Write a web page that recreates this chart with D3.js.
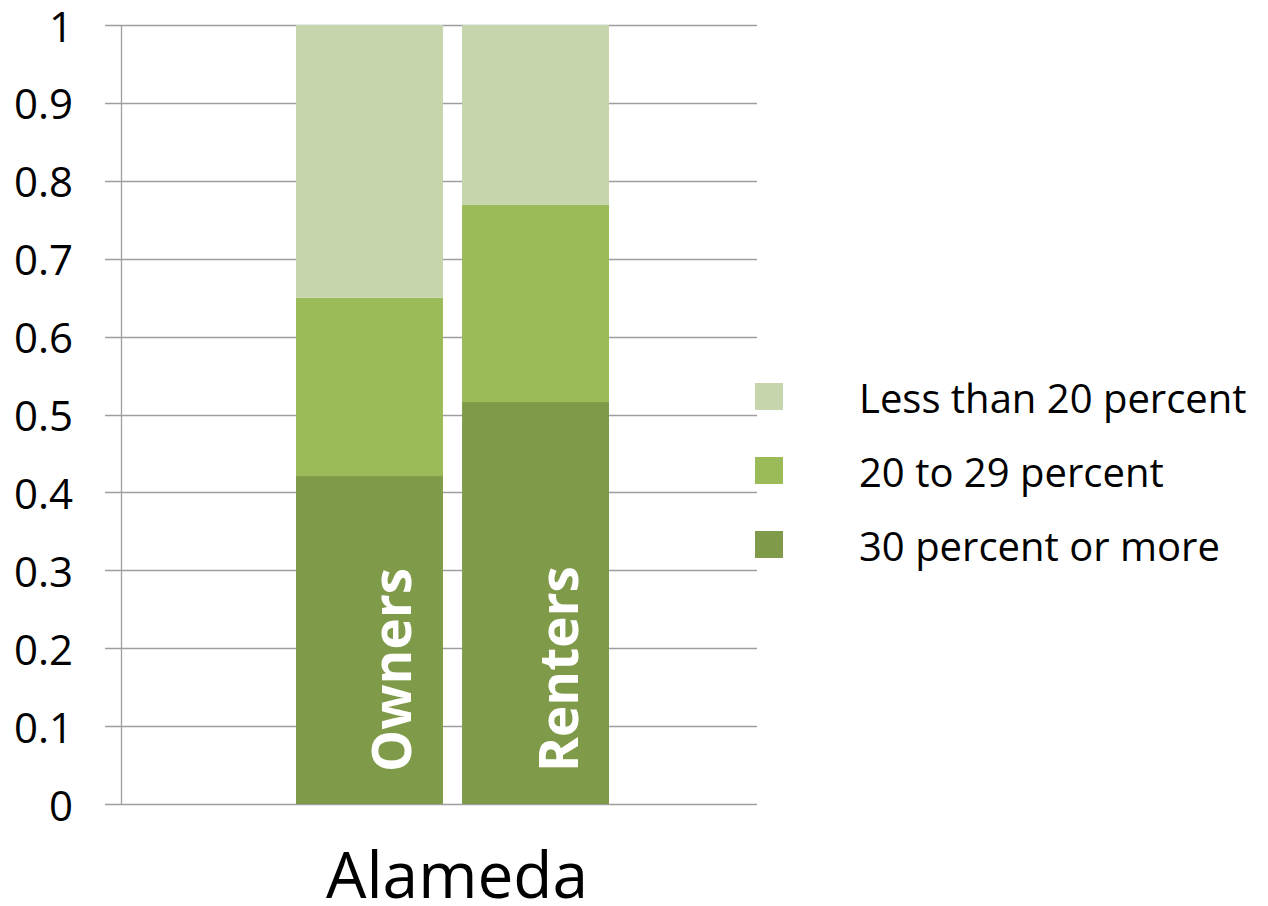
<!DOCTYPE html>
<html>
<head>
<meta charset="utf-8">
<script src="https://cdn.jsdelivr.net/npm/d3@7"></script>
<style>
  body { margin: 0; background: #fff; }
  svg { display: block; font-family: "Open Sans", Lato, sans-serif; }
</style>
</head>
<body>
<svg id="chart" width="1268" height="906"></svg>
<script>
// data
var tenure = ['Owners', 'Renters'];
var series = ['30 percent or more', '20 to 29 percent', 'Less than 20 percent'];
var over30 = [0.421, 0.516];
var from20to29 = [0.229, 0.253];
var under20 = [0.350, 0.231];
var county = 'Alameda';
var yTicks = [0, 0.1, 0.2, 0.3, 0.4, 0.5, 0.6, 0.7, 0.8, 0.9, 1];
var colors = ['#7f9a48', '#9bbb59', '#c6d5ac'];

var svg = d3.select('#chart');

var plotTop = 25, plotBottom = 804, plotLeft = 121, plotRight = 757;

var y = d3.scaleLinear().domain([0, 1]).range([plotBottom, plotTop]);
var x = d3.scaleBand().domain(tenure).range([296, 609]).paddingInner(0.115);

// gridlines + tick marks
var grid = svg.append('g');
grid.selectAll('line').data(yTicks).enter().append('line')
    .attr('x1', plotLeft - 16)
    .attr('x2', plotRight)
    .attr('y1', function(d) { return Math.round(y(d)) + 0.5; })
    .attr('y2', function(d) { return Math.round(y(d)) + 0.5; })
    .attr('stroke', '#9e9e9e')
    .attr('stroke-width', 1.3);

svg.append('line')
    .attr('x1', plotLeft + 0.5).attr('x2', plotLeft + 0.5)
    .attr('y1', y(1)).attr('y2', y(0))
    .attr('stroke', '#9e9e9e')
    .attr('stroke-width', 1.3);

// y labels
svg.append('g').selectAll('text').data(yTicks).enter().append('text')
    .attr('x', 73)
    .attr('y', function(d) { return y(d); })
    .attr('text-anchor', 'end')
    .attr('dominant-baseline', 'central')
    .attr('font-size', 42)
    .attr('fill', '#000')
    .text(function(d) { return d3.format('')(d); });

// stacked bars
var rows = tenure.map(function(t, i) {
    return { tenure: t, '30 percent or more': over30[i], '20 to 29 percent': from20to29[i], 'Less than 20 percent': under20[i] };
});
var stacked = d3.stack().keys(series)(rows);

var layers = svg.append('g').selectAll('g').data(stacked).enter().append('g')
    .attr('fill', function(d, i) { return colors[i]; });
layers.selectAll('rect').data(function(d) { return d; }).enter().append('rect')
    .attr('x', function(d) { return x(d.data.tenure); })
    .attr('width', x.bandwidth())
    .attr('y', function(d) { return y(d[1]); })
    .attr('height', function(d) { return y(d[0]) - y(d[1]); });

// rotated bar labels
svg.append('g').selectAll('text').data(tenure).enter().append('text')
    .attr('transform', function(d) {
        return 'translate(' + (x(d) + x.bandwidth() / 2 + 42) + ',' + 772 + ') rotate(-90)';
    })
    .attr('font-size', 53)
    .attr('font-weight', 'bold')
    .attr('fill', '#fff')
    .text(function(d) { return d; });

// category label
svg.append('text')
    .attr('x', 457)
    .attr('y', 898)
    .attr('text-anchor', 'middle')
    .attr('font-size', 64)
    .attr('fill', '#000')
    .text(county);

// legend
var legendOrder = series.slice().reverse();
var legend = svg.append('g').selectAll('g').data(legendOrder).enter().append('g')
    .attr('transform', function(d, i) { return 'translate(755,' + (383 + i * 74) + ')'; });
legend.append('rect')
    .attr('width', 28)
    .attr('height', 27)
    .attr('fill', function(d) { return colors[series.indexOf(d)]; });
legend.append('text')
    .attr('x', 104)
    .attr('y', 14)
    .attr('dominant-baseline', 'central')
    .attr('font-size', 40)
    .attr('fill', '#000')
    .text(function(d) { return d; });
</script>
</body>
</html>
